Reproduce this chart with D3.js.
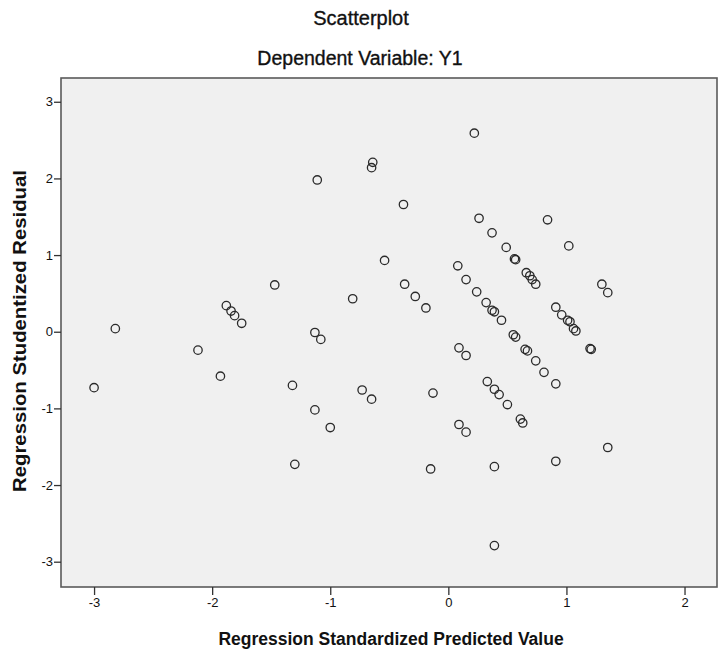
<!DOCTYPE html>
<meta charset="utf-8">
<head>
 <title>Scatterplot</title>
</head>
<style>
body { margin: 0; background: #fff; }
text { font-family: "Liberation Sans", Arial, sans-serif; fill: #111; }
.dot { fill: none; stroke: #2a2a2a; stroke-width: 1.3; }
.axis line { stroke: #333; stroke-width: 1.3; }
.title { stroke: #111; stroke-width: 0.35; }
</style>
<body>
<div id="content"></div>
<script src="https://cdnjs.cloudflare.com/ajax/libs/d3/7.8.5/d3.min.js"></script>
<script>
// predicted values (x) and studentized residuals (y)
var predicted = [-3.00, -2.82, -2.12, -1.93, -1.88, -1.84, -1.81, -1.75, -1.47, -1.32,
  -1.30, -1.13, -1.08, -1.13, -1.00, -1.11, -0.81, -0.73, -0.65, -0.64,
  -0.65, -0.54, -0.38, -0.37, -0.28, -0.19, -0.13, -0.15, 0.08, 0.15,
  0.09, 0.15, 0.09, 0.15, 0.22, 0.26, 0.37, 0.24, 0.32, 0.37,
  0.39, 0.45, 0.33, 0.39, 0.43, 0.50, 0.39, 0.39, 0.49, 0.56,
  0.57, 0.55, 0.57, 0.61, 0.63, 0.65, 0.67, 0.66, 0.69, 0.71,
  0.74, 0.74, 0.81, 0.84, 0.91, 0.96, 1.01, 1.03, 1.06, 1.08,
  0.91, 0.91, 1.02, 1.20, 1.21, 1.30, 1.35, 1.35]
var residual = [-0.73, 0.04, -0.24, -0.58, 0.34, 0.27, 0.21, 0.11, 0.61, -0.70,
  -1.73, -0.01, -0.10, -1.02, -1.25, 1.98, 0.43, -0.76, -0.88, 2.21,
  2.14, 0.93, 1.66, 0.62, 0.46, 0.31, -0.80, -1.79, 0.86, 0.68,
  -0.21, -0.31, -1.21, -1.31, 2.59, 1.48, 1.29, 0.52, 0.38, 0.28,
  0.26, 0.15, -0.65, -0.75, -0.82, -0.95, -1.76, -2.79, 1.10, 0.95,
  0.94, -0.04, -0.07, -1.14, -1.19, -0.23, -0.25, 0.77, 0.73, 0.68,
  0.62, -0.38, -0.53, 1.46, 0.32, 0.22, 0.15, 0.13, 0.04, 0.01,
  -0.68, -1.69, 1.12, -0.22, -0.23, 0.62, 0.51, -1.51]
var xTicks = [-3, -2, -1, 0, 1, 2]
var yTicks = [-3, -2, -1, 0, 1, 2, 3]

var width = 723, height = 663
var plotLeft = 61, plotRight = 717, plotTop = 78, plotBottom = 587

var svg = d3.select('#content').append('svg')
  .attr('width', width).attr('height', height)

var x = d3.scaleLinear().domain([-3.28, 2.275]).range([plotLeft, plotRight])
var y = d3.scaleLinear().domain([-3.33, 3.31]).range([plotBottom, plotTop])

// plot background
svg.append('rect')
  .attr('x', plotLeft).attr('y', plotTop)
  .attr('width', plotRight - plotLeft).attr('height', plotBottom - plotTop)
  .attr('fill', '#f0f0f0')
  .attr('stroke', '#5a5a5a').attr('stroke-width', 1.6)

var fmt = function(d) { return String(d) }

var gx = svg.append('g').attr('class', 'axis')
  .attr('transform', 'translate(0,' + plotBottom + ')')
  .call(d3.axisBottom(x).tickValues(xTicks).tickFormat(fmt).tickSize(8).tickPadding(3).tickSizeOuter(0))
gx.select('.domain').remove()
gx.selectAll('text').style('font-size', '13px').style('font-family', '"Liberation Sans", Arial, sans-serif').attr('fill', '#222')

var gy = svg.append('g').attr('class', 'axis')
  .attr('transform', 'translate(' + plotLeft + ',0)')
  .call(d3.axisLeft(y).tickValues(yTicks).tickFormat(fmt).tickSize(7).tickPadding(1).tickSizeOuter(0))
gy.select('.domain').remove()
gy.selectAll('text').style('font-size', '13px').style('font-family', '"Liberation Sans", Arial, sans-serif').attr('fill', '#222')

var pts = predicted.map(function(d, i) { return {x: d, y: residual[i]} })

svg.append('g').selectAll('circle')
  .data(pts)
  .enter()
  .append('circle')
  .attr('class', 'dot')
  .attr('r', 4.2)
  .attr('cx', function(d) { return x(d.x) })
  .attr('cy', function(d) { return y(d.y) })

// titles
svg.append('text')
  .attr('class', 'title')
  .attr('x', 361).attr('y', 25)
  .attr('text-anchor', 'middle')
  .style('font-size', '20px')
  .text('Scatterplot')

svg.append('text')
  .attr('class', 'title')
  .attr('x', 360).attr('y', 65)
  .attr('text-anchor', 'middle')
  .style('font-size', '19.5px')
  .text('Dependent Variable: Y1')

svg.append('text')
  .attr('x', 391).attr('y', 645)
  .attr('text-anchor', 'middle')
  .style('font-size', '17.5px').style('font-weight', 'bold')
  .text('Regression Standardized Predicted Value')

svg.append('text')
  .attr('transform', 'translate(26,331) rotate(-90)')
  .attr('text-anchor', 'middle')
  .attr('textLength', 322).attr('lengthAdjust', 'spacingAndGlyphs')
  .style('font-size', '17.5px').style('font-weight', 'bold')
  .text('Regression Studentized Residual')
</script>
</body>
</html>
